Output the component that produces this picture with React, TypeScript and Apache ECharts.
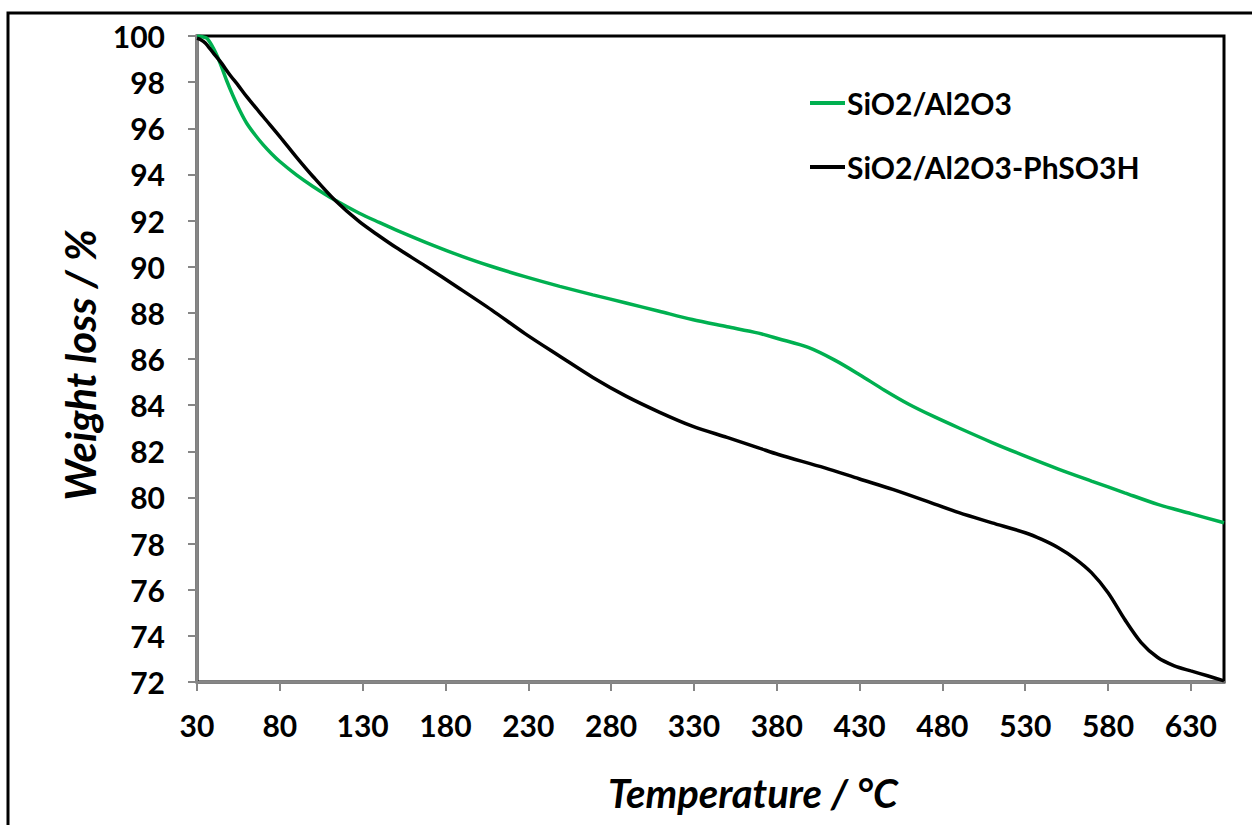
import React, { useEffect, useRef } from "react";
import * as echarts from "echarts";

const xTicks = [30, 80, 130, 180, 230, 280, 330, 380, 430, 480, 530, 580, 630];
const seriesNames = ["SiO2/Al2O3", "SiO2/Al2O3-PhSO3H"];

const sioAl: [number, number][] = [
  [30, 100], [33, 99.97], [36, 99.9], [40, 99.45], [44, 98.82], [48, 98.05], [52, 97.37],
  [56, 96.75], [60, 96.22], [65, 95.72], [70, 95.28], [75, 94.9], [80, 94.56], [90, 93.98],
  [100, 93.48], [113, 92.9], [128, 92.32], [140, 91.92], [150, 91.6], [168, 91.06],
  [190, 90.45], [208, 90.01], [228, 89.57], [249, 89.15], [269, 88.78], [289, 88.43],
  [309, 88.07], [329, 87.71], [350, 87.4], [369, 87.12], [381, 86.88], [399, 86.5],
  [415, 85.95], [430, 85.32], [445, 84.65], [460, 84.03], [475, 83.5], [490, 83.01],
  [510, 82.38], [530, 81.79], [550, 81.23], [570, 80.71], [590, 80.2], [610, 79.7],
  [630, 79.3], [650, 78.9],
];

const sioAlPh: [number, number][] = [
  [30, 99.9], [32, 99.85], [35, 99.7], [40, 99.25], [44, 98.9], [50, 98.3], [55, 97.85],
  [60, 97.37], [70, 96.5], [80, 95.64], [90, 94.75], [100, 93.91], [113, 92.9],
  [128, 91.95], [140, 91.33], [150, 90.84], [168, 90.02], [188, 89.08], [208, 88.12],
  [228, 87.1], [249, 86.12], [269, 85.2], [289, 84.39], [309, 83.7], [329, 83.09],
  [350, 82.6], [369, 82.15], [381, 81.86], [409, 81.28], [430, 80.8], [450, 80.35],
  [470, 79.85], [490, 79.34], [510, 78.9], [530, 78.47], [540, 78.18], [550, 77.82],
  [560, 77.35], [570, 76.74], [580, 75.87], [590, 74.72], [600, 73.71], [610, 73.06],
  [620, 72.7], [630, 72.48], [640, 72.27], [650, 72.05],
];

const FONT = "Lato, 'Open Sans', sans-serif";

export default function App() {
  const ref = useRef<HTMLDivElement>(null);
  useEffect(() => {
    document.body.style.margin = "0";
    if (!ref.current) return;
    const chart = echarts.init(ref.current, undefined, { renderer: "svg" });
    chart.setOption({
      animation: false,
      backgroundColor: "#fff",
      grid: {
        left: 197,
        top: 36,
        right: 28,
        bottom: 143,
        show: true,
        borderColor: "#000",
        borderWidth: 3,
        containLabel: false,
      },
      legend: {
        orient: "vertical",
        left: 805,
        top: 82,
        itemWidth: 35,
        itemHeight: 4,
        itemGap: 32,
        icon: "rect",
        textStyle: {
          fontFamily: FONT,
          fontWeight: "bold",
          fontSize: 30,
          color: "#000",
          lineHeight: 32,
          padding: [0, 0, 0, -3],
        },
        data: seriesNames,
      },
      xAxis: {
        type: "value",
        min: 30,
        max: 650,
        interval: 50,
        axisLine: { show: true, lineStyle: { color: "#868686", width: 2 } },
        axisTick: {
          show: true,
          length: 9,
          customValues: xTicks,
          lineStyle: { color: "#868686", width: 2 },
        },
        axisLabel: {
          customValues: xTicks,
          margin: 28,
          fontFamily: FONT,
          fontWeight: "bold",
          fontSize: 30,
          color: "#000",
        },
        splitLine: { show: false },
      },
      yAxis: {
        type: "value",
        min: 72,
        max: 100,
        interval: 2,
        axisLine: { show: true, lineStyle: { color: "#868686", width: 2 } },
        axisTick: { show: true, length: 9, lineStyle: { color: "#868686", width: 2 } },
        axisLabel: {
          margin: 32,
          fontFamily: FONT,
          fontWeight: "bold",
          fontSize: 30,
          color: "#000",
        },
        splitLine: { show: false },
      },
      series: [
        {
          name: seriesNames[0],
          type: "line",
          data: sioAl,
          smooth: 0.3,
          showSymbol: false,
          lineStyle: { color: "#00B050", width: 3.5 },
          itemStyle: { color: "#00B050" },
          z: 3,
        },
        {
          name: seriesNames[1],
          type: "line",
          data: sioAlPh,
          smooth: 0.3,
          showSymbol: false,
          lineStyle: { color: "#000", width: 3.5 },
          itemStyle: { color: "#000" },
          z: 4,
        },
      ],
      graphic: [
        {
          type: "rect",
          shape: { x: 8, y: 13, width: 1300, height: 900 },
          style: { fill: "none", stroke: "#000", lineWidth: 3 },
          silent: true,
        },
        {
          type: "text",
          x: 753,
          y: 793,
          style: {
            text: "Temperature / °C",
            fontFamily: FONT,
            fontWeight: "bold",
            fontStyle: "italic",
            fontSize: 40,
            fill: "#000",
            align: "center",
            verticalAlign: "middle",
          },
        },
        {
          type: "text",
          x: 80,
          y: 365,
          rotation: Math.PI / 2,
          style: {
            text: "Weight loss / %",
            fontFamily: FONT,
            fontWeight: "bold",
            fontStyle: "italic",
            fontSize: 42,
            fill: "#000",
            align: "center",
            verticalAlign: "middle",
          },
        },
      ],
    });
    return () => chart.dispose();
  }, []);
  return <div ref={ref} style={{ width: 1252, height: 825 }} />;
}
